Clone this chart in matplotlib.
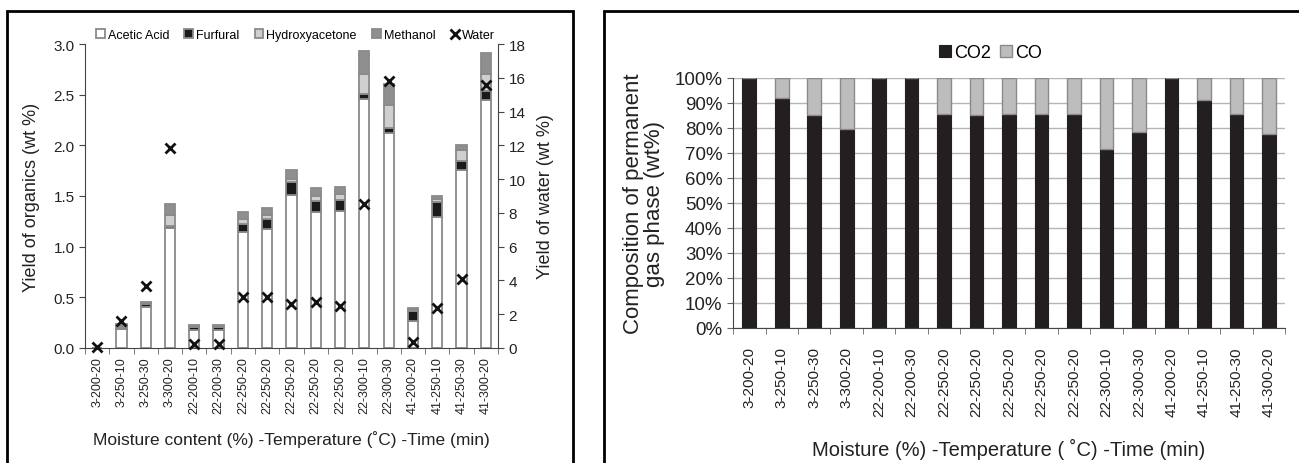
import matplotlib
matplotlib.use('Agg')
import matplotlib.pyplot as plt
import numpy as np
from matplotlib.patches import Rectangle

plt.rcParams['font.family'] = ['Liberation Sans', 'DejaVu Sans']

runs = ['3-200-20', '3-250-10', '3-250-30', '3-300-20', '22-200-10', '22-200-30',
        '22-250-20', '22-250-20', '22-250-20', '22-250-20', '22-250-20',
        '22-300-10', '22-300-30', '41-200-20', '41-250-10', '41-250-30', '41-300-20']

# organics yield, wt %
acetic = [0.0, 0.19, 0.40, 1.18, 0.18, 0.18, 1.14, 1.17, 1.51, 1.34, 1.355,
          2.46, 2.12, 0.27, 1.29, 1.76, 2.45]
furfural = [0.0, 0.01, 0.03, 0.02, 0.03, 0.03, 0.08, 0.10, 0.13, 0.11, 0.11,
            0.05, 0.05, 0.09, 0.15, 0.09, 0.09]
hydroxyacetone = [0.0, 0.02, 0.01, 0.11, 0.005, 0.005, 0.05, 0.04, 0.03, 0.05, 0.055,
                  0.19, 0.225, 0.02, 0.03, 0.105, 0.16]
methanol = [0.0, 0.02, 0.01, 0.11, 0.01, 0.01, 0.075, 0.075, 0.09, 0.077, 0.07,
            0.23, 0.206, 0.01, 0.027, 0.045, 0.21]
water = [0.05, 1.6, 3.65, 11.85, 0.25, 0.25, 3.0, 3.0, 2.6, 2.7, 2.5,
         8.5, 15.8, 0.35, 2.35, 4.1, 15.6]

# permanent gas composition, wt %
co2 = [100, 92, 85, 79.5, 100, 100, 85.5, 85, 85.5, 85.5, 85.5,
       71.5, 78.5, 100, 91, 85.5, 77.5]
co = [0, 8, 15, 20.5, 0, 0, 14.5, 15, 14.5, 14.5, 14.5,
      28.5, 21.5, 0, 9, 14.5, 22.5]

fig = plt.figure(figsize=(12.99, 4.64), dpi=100)

# panel frames
fig.patches.append(Rectangle((7 / 1299, -0.05), 566 / 1299, 1.05 - 12 / 464,
                             transform=fig.transFigure, fill=False, lw=2, ec='black'))
fig.patches.append(Rectangle((604 / 1299, -0.05), 0.6, 1.05 - 12 / 464,
                             transform=fig.transFigure, fill=False, lw=2, ec='black'))

x = np.arange(len(runs))
txt = '#222222'

# ---- left: organics + water
ax = fig.add_axes([0.0654, 0.248, 0.318, 0.655])
w = 0.42
ec = '#8a8a8a'
b = np.zeros(len(runs))
layers = [(acetic, 'white', 'Acetic Acid'), (furfural, '#1a1a1a', 'Furfural'),
          (hydroxyacetone, '#cfcfcf', 'Hydroxyacetone'), (methanol, '#8f8f8f', 'Methanol')]
handles = []
for vals, col, name in layers:
    h = ax.bar(x, vals, w, bottom=b, color=col, edgecolor=ec, linewidth=1.3, label=name)
    handles.append(h)
    b += np.array(vals)

ax.set_xlim(-0.5, len(runs) - 0.5)
ax.set_ylim(0, 3.0)
ax.set_yticks(np.arange(0, 3.01, 0.5))
ax.set_yticklabels([f'{v:.1f}' for v in np.arange(0, 3.01, 0.5)], fontsize=11, color=txt)
ax.set_xticks(x)
ax.set_xticklabels(runs, rotation=90, fontsize=9, color=txt)
ax.set_xticks(np.arange(-0.5, len(runs)), minor=True)
ax.tick_params(axis='x', which='major', length=0, pad=6)
ax.tick_params(axis='x', which='minor', length=4, color='#666666')
ax.tick_params(axis='y', length=4, color='#444444')
for s in ['top', 'right']:
    ax.spines[s].set_visible(False)
ax.spines['left'].set_color('#444444')
ax.spines['bottom'].set_color('#444444')
ax.set_ylabel('Yield of organics (wt %)', fontsize=13, color=txt)
ax.yaxis.set_label_coords(-0.109, 0.5)
ax.set_xlabel('Moisture content (%) -Temperature (˚C) -Time (min)', fontsize=12.5,
              color=txt)
ax.xaxis.set_label_coords(0.5, -0.27)

ax2 = ax.twinx()
ax2.set_ylim(0, 18)
ax2.set_yticks(range(0, 19, 2))
ax2.set_yticklabels([str(v) for v in range(0, 19, 2)], fontsize=11, color=txt)
ax2.tick_params(axis='y', length=4, color='#444444')
for s in ['top', 'left', 'bottom']:
    ax2.spines[s].set_visible(False)
ax2.spines['right'].set_color('#444444')
wm, = ax2.plot(x, water, 'x', color='#111111', ms=6.5, mew=2, label='Water', clip_on=False)
ax2.set_ylabel('Yield of water (wt %)', fontsize=13, color=txt)
ax2.yaxis.set_label_coords(1.094, 0.5)
handles.append(wm)

ax.legend(handles=handles, labels=[h.get_label() for h in handles], loc='center',
          bbox_to_anchor=(0.51, 1.03), ncol=5, frameon=False, fontsize=9,
          handlelength=0.7, handleheight=0.7, handletextpad=0.25, columnspacing=1.2,
          borderpad=0)

# ---- right: gas composition
bx = fig.add_axes([0.5643, 0.291, 0.425, 0.539])
bx.set_axisbelow(True)
bx.yaxis.grid(True, color='#b5b5b5', lw=1)
h1 = bx.bar(x, co2, w, color='#231f20', edgecolor='#231f20', linewidth=0.8, label='CO2')
h2 = bx.bar(x, co, w, bottom=co2, color='#bdbdbd', edgecolor='#8a8a8a', linewidth=1.0,
            label='CO')
bx.set_xlim(-0.5, len(runs) - 0.5)
bx.set_ylim(0, 100)
bx.set_yticks(range(0, 101, 10))
bx.set_yticklabels([f'{v}%' for v in range(0, 101, 10)], fontsize=13.5, color=txt)
bx.set_xticks(x)
bx.set_xticklabels(runs, rotation=90, fontsize=11, color=txt)
bx.set_xticks(np.arange(-0.5, len(runs)), minor=True)
bx.tick_params(axis='x', which='major', length=0, pad=13)
bx.tick_params(axis='x', which='minor', length=4, color='#666666')
bx.tick_params(axis='y', length=4, color='#666666')
for s in ['top', 'right']:
    bx.spines[s].set_visible(False)
bx.spines['left'].set_color('#444444')
bx.spines['bottom'].set_color('#444444')
bx.set_ylabel('Composition of permanent\ngas phase (wt%)', fontsize=16, color=txt,
              linespacing=1.0)
bx.yaxis.set_label_coords(-0.123, 0.5)
bx.set_xlabel('Moisture (%) -Temperature ( ˚C) -Time (min)', fontsize=14.5, color=txt)
bx.xaxis.set_label_coords(0.5, -0.44)
bx.legend(handles=[h1, h2], loc='center', bbox_to_anchor=(0.466, 1.10), ncol=2,
          frameon=False, fontsize=13, handlelength=0.7, handleheight=0.7,
          handletextpad=0.15, columnspacing=0.5, borderpad=0)

fig.savefig('out.png', dpi=100)
